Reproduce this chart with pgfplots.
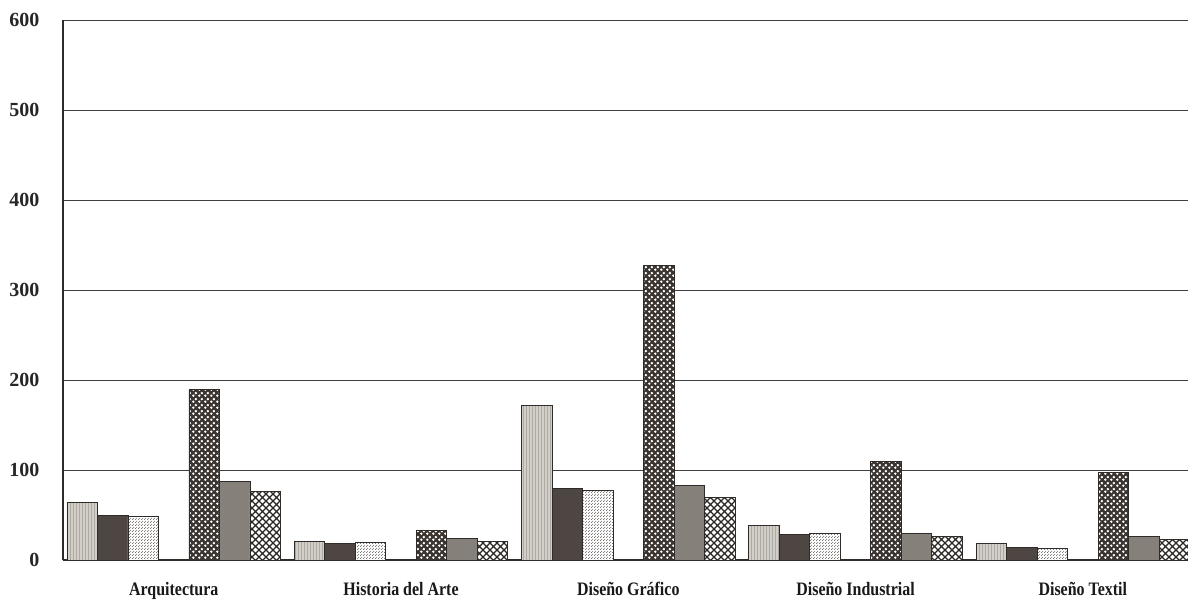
\documentclass[border=0pt]{standalone}
\usepackage{fontspec}
\setmainfont{Liberation Serif}
\usepackage{pgfplots}
\pgfplotsset{compat=1.18}
\usetikzlibrary{patterns}

\pgfdeclarepatternformonly{bigdots}{\pgfqpoint{0pt}{0pt}}{\pgfqpoint{6pt}{6pt}}{\pgfqpoint{6pt}{6pt}}{
  \pgfpathcircle{\pgfqpoint{1.5pt}{1.5pt}}{1.5pt}
  \pgfpathcircle{\pgfqpoint{4.5pt}{4.5pt}}{1.5pt}
  \pgfusepath{fill}
}
\pgfdeclarepatternformonly{bighatch}{\pgfqpoint{-1pt}{-1pt}}{\pgfqpoint{8pt}{8pt}}{\pgfqpoint{7pt}{7pt}}{
  \pgfsetlinewidth{1.3pt}
  \pgfpathmoveto{\pgfqpoint{-0.5pt}{-0.5pt}}\pgfpathlineto{\pgfqpoint{7.5pt}{7.5pt}}
  \pgfpathmoveto{\pgfqpoint{-0.5pt}{7.5pt}}\pgfpathlineto{\pgfqpoint{7.5pt}{-0.5pt}}
  \pgfusepath{stroke}
}
\pgfdeclarepatternformonly{finedots}{\pgfqpoint{0pt}{0pt}}{\pgfqpoint{3pt}{3pt}}{\pgfqpoint{3pt}{3pt}}{
  \pgfpathcircle{\pgfqpoint{0.75pt}{0.75pt}}{0.7pt}
  \pgfpathcircle{\pgfqpoint{2.25pt}{2.25pt}}{0.7pt}
  \pgfusepath{fill}
}
\pgfdeclarepatternformonly{vlines}{\pgfqpoint{0pt}{-1pt}}{\pgfqpoint{3pt}{3pt}}{\pgfqpoint{3pt}{2pt}}{
  \pgfsetlinewidth{0.6pt}
  \pgfpathmoveto{\pgfqpoint{1.5pt}{-1pt}}\pgfpathlineto{\pgfqpoint{1.5pt}{3pt}}
  \pgfusepath{stroke}
}

\definecolor{cA}{HTML}{D2CEC8}
\definecolor{cAl}{HTML}{ADA8A2}
\definecolor{cB}{HTML}{4D4643}
\definecolor{cC}{HTML}{6E6966}
\definecolor{cD}{HTML}{3B3532}
\definecolor{cE}{HTML}{858079}
\definecolor{cF}{HTML}{2A2725}
\definecolor{edge}{HTML}{2E2B29}

\pgfplotstableread{
x s1 s2 s3 s4 s5 s6
0 64 50 48 189 87 76
1 21 18 19 33 24 21
2 172 79 77 327 83 69
3 38 28 30 109 29 26
4 18 14 13 97 26 23
}\datatable

\begin{document}
\begin{tikzpicture}
\begin{axis}[
  at={(0pt,0pt)}, anchor=south west,
  width=1125pt, height=540pt, scale only axis,
  xmin=-0.4873, xmax=4.463, ymin=0, ymax=600,
  ybar, bar width=30.5pt,
  axis lines=left, axis line style={-, draw=edge, line width=1.3pt},
  ytick={0,100,...,600}, ymajorgrids,
  grid style={draw=black!75, line width=0.8pt},
  xtick={0,1,2,3,4},
  xticklabels={Arquitectura, Historia del Arte, Diseño Gráfico, Diseño Industrial, Diseño Textil},
  major tick length=0pt,
  xticklabel style={font=\bfseries\fontsize{19}{21}\selectfont\addfontfeature{FakeStretch=0.84}, yshift=-19pt, text=black!90},
  yticklabel style={font=\bfseries\fontsize{20}{22}\selectfont, xshift=-20pt, text=black!85},
  /pgf/number format/assume math mode=true,
  every axis plot/.append style={draw=edge, line width=0.9pt},
]
\addplot[fill=cA, postaction={pattern=vlines, pattern color=cAl}, bar shift=-91.5pt] table[x=x,y=s1]{\datatable};
\addplot[fill=cB, bar shift=-61pt] table[x=x,y=s2]{\datatable};
\addplot[fill=white, postaction={pattern=finedots, pattern color=cC}, bar shift=-30.5pt] table[x=x,y=s3]{\datatable};
\addplot[fill=cD, postaction={pattern=bigdots, pattern color=white}, bar shift=30.5pt] table[x=x,y=s4]{\datatable};
\addplot[fill=cE, bar shift=61pt] table[x=x,y=s5]{\datatable};
\addplot[fill=white, postaction={pattern=bighatch, pattern color=cF}, bar shift=91.5pt] table[x=x,y=s6]{\datatable};
\end{axis}
\pgfresetboundingbox
\useasboundingbox (-63pt,-46pt) rectangle (1125pt,560pt);
\end{tikzpicture}
\end{document}
